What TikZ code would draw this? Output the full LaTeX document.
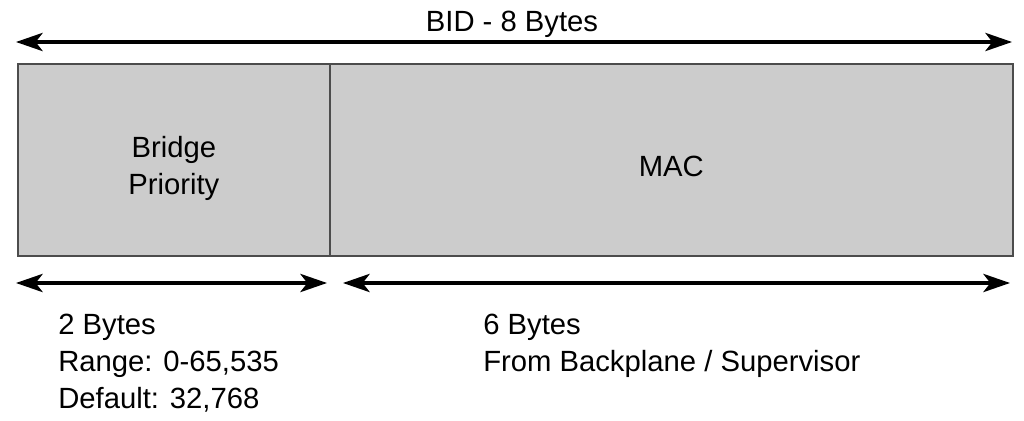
\documentclass[tikz,border=0pt]{standalone}
\usepackage{fontspec}
\setmainfont{Liberation Sans}
\usepackage{tikz}
\usetikzlibrary{arrows.meta}

\begin{document}
\begin{tikzpicture}[
  field/.style={draw=black!70, line width=1.2pt, fill=black!20, minimum height=4.8cm, inner sep=0pt},
  span/.style={{Stealth[length=19pt,width=13pt,inset=5pt]}-{Stealth[length=19pt,width=13pt,inset=5pt]}, line width=2.2pt},
  lbl/.style={inner sep=0pt, font=\fontsize{20.8}{26.2}\selectfont, align=left}
]
\useasboundingbox (0,0) rectangle (25.6,10.5);
% fields
\node[field, minimum width=7.8cm, anchor=south west] (prio) at (0.425,4.075) {};
\node[field, minimum width=17.075cm, anchor=south west] (mac) at (8.225,4.075) {};
\node[lbl, align=center] (priotxt) at ([yshift=-0.2cm]prio.center) {Bridge\\Priority};
\node[lbl] (mactxt) at ([yshift=-0.15cm]mac.center) {MAC};
% spans
\coordinate (bidL) at (0.4,9.45);
\coordinate (bidR) at (25.3,9.45);
\draw[span] (bidL) -- (bidR);
\node[lbl] (bid) at (12.8,9.9) {BID - 8 Bytes};
\coordinate (prioL) at (0.4,3.425);
\coordinate (prioR) at (8.175,3.425);
\draw[span] (prioL) -- (prioR);
\coordinate (macL) at (8.575,3.425);
\coordinate (macR) at (25.25,3.425);
\draw[span] (macL) -- (macR);
% notes
\node[lbl, anchor=base west] (prionote) at (1.45,0.3) {2 Bytes\\Range: 0-65,535\\Default: 32,768};
\node[lbl, anchor=base west] (macnote) at (12.075,1.225) {6 Bytes\\From Backplane / Supervisor};
\end{tikzpicture}
\end{document}
